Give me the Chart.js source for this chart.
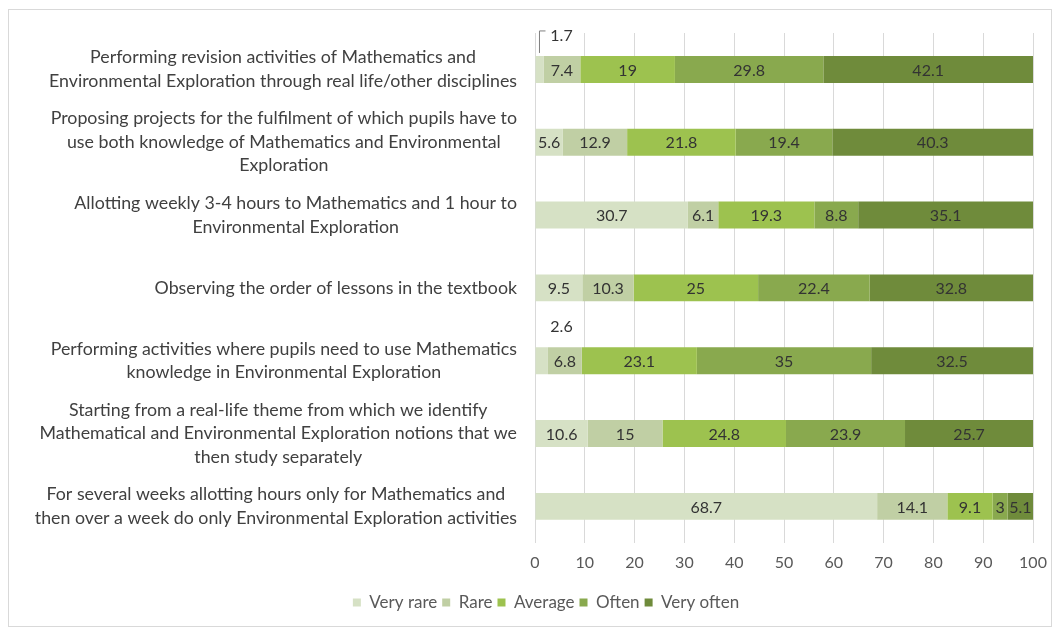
<!DOCTYPE html>
<html lang="en">
<head>
    <meta charset="UTF-8" />
    <title>Integration practices</title>
    <style>
        body {
            margin: 0;
            background: #ffffff;
        }

        .wrap {
            position: relative;
            width: 1060px;
            height: 635px;
        }
    </style>
</head>
<body>
    <div class="wrap">
        <canvas id="chart" width="1060" height="635"></canvas>
    </div>

    <script src="https://cdn.jsdelivr.net/npm/chart.js"></script>
    <script>
        // Data
        const categories = [
            ["Performing revision activities of Mathematics and",
             "Environmental Exploration through real life/other disciplines"],
            ["Proposing projects for the fulfilment of which pupils have to",
             "use both knowledge of Mathematics and Environmental",
             "Exploration"],
            ["Allotting weekly 3-4 hours to Mathematics and 1 hour to",
             "Environmental Exploration"],
            ["Observing the order of lessons in the textbook"],
            ["Performing activities where pupils need to use Mathematics",
             "knowledge in Environmental Exploration"],
            ["Starting from a real-life theme from which we identify",
             "Mathematical and Environmental Exploration notions that we",
             "then study separately"],
            ["For several weeks allotting hours only for Mathematics and",
             "then over a week do only Environmental Exploration activities"]
        ];
        const seriesNames = ["Very rare", "Rare", "Average", "Often", "Very often"];
        const veryRare = [1.7, 5.6, 30.7, 9.5, 2.6, 10.6, 68.7];
        const rare = [7.4, 12.9, 6.1, 10.3, 6.8, 15, 14.1];
        const average = [19, 21.8, 19.3, 25, 23.1, 24.8, 9.1];
        const often = [29.8, 19.4, 8.8, 22.4, 35, 23.9, 3];
        const veryOften = [42.1, 40.3, 35.1, 32.8, 32.5, 25.7, 5.1];
        const xTicks = [0, 10, 20, 30, 40, 50, 60, 70, 80, 90, 100];

        const colors = ['#d6e1c5', '#c0cfa4', '#9dc24f', '#89a94e', '#6f8b3b'];
        const FONT = 'Lato, "Open Sans", sans-serif';

        // Category labels: block right-aligned, lines centred inside the block
        const categoryLabels = {
            id: 'categoryLabels',
            afterDraw(chart) {
                const ctx = chart.ctx;
                const y = chart.scales.y;
                const rightEdge = chart.chartArea.left - 18;
                const lineH = 23.5;
                ctx.save();
                ctx.font = '17.8px ' + FONT;
                ctx.fillStyle = '#404040';
                ctx.textAlign = 'center';
                ctx.textBaseline = 'middle';
                categories.forEach((lines, i) => {
                    const w = Math.max(...lines.map(l => ctx.measureText(l).width));
                    const cx = rightEdge - w / 2;
                    const cy = y.getPixelForValue(i);
                    lines.forEach((l, k) => {
                        ctx.fillText(l, cx, cy + (k - (lines.length - 1) / 2) * lineH);
                    });
                });
                ctx.restore();
            }
        };

        // Value labels inside the segments, small ones placed above
        const valueLabels = {
            id: 'valueLabels',
            afterDatasetsDraw(chart) {
                const ctx = chart.ctx;
                ctx.save();
                ctx.font = '16px ' + FONT;
                ctx.fillStyle = '#333333';
                ctx.textBaseline = 'middle';
                ctx.textAlign = 'center';
                chart.data.datasets.forEach((ds, di) => {
                    chart.getDatasetMeta(di).data.forEach((bar, i) => {
                        const txt = String(ds.data[i]);
                        const segW = Math.abs(bar.x - bar.base);
                        const tw = ctx.measureText(txt).width;
                        if (tw > segW + 4) {
                            const top = bar.y - bar.height / 2;
                            const lx = bar.base + 26;
                            const ly = top - 20;
                            ctx.fillText(txt, lx, ly);
                            if (i === 0) {
                                ctx.strokeStyle = '#7f7f7f';
                                ctx.lineWidth = 1;
                                ctx.beginPath();
                                ctx.moveTo((bar.x + bar.base) / 2, top - 3);
                                ctx.lineTo((bar.x + bar.base) / 2, ly - 5);
                                ctx.lineTo(lx - 16, ly - 5);
                                ctx.stroke();
                            }
                        } else {
                            ctx.fillText(txt, (bar.x + bar.base) / 2, bar.y + 1);
                        }
                    });
                });
                ctx.restore();
            }
        };

        // Light frame round the whole chart
        const frame = {
            id: 'frame',
            beforeDraw(chart) {
                const ctx = chart.ctx;
                ctx.save();
                ctx.fillStyle = '#ffffff';
                ctx.fillRect(0, 0, chart.width, chart.height);
                ctx.strokeStyle = '#d9d9d9';
                ctx.lineWidth = 1;
                ctx.strokeRect(8.5, 9.5, chart.width - 17, chart.height - 18);
                ctx.restore();
            }
        };

        const seriesData = [veryRare, rare, average, often, veryOften];

        new Chart(document.getElementById('chart'), {
            type: 'bar',
            data: {
                labels: categories.map((c, i) => i),
                datasets: seriesNames.map((name, k) => ({
                    label: name,
                    data: seriesData[k],
                    backgroundColor: colors[k],
                    borderWidth: 0,
                    barPercentage: 0.37,
                    categoryPercentage: 1
                }))
            },
            options: {
                indexAxis: 'y',
                responsive: false,
                animation: false,
                layout: {
                    padding: { left: 59, right: 27, top: 33, bottom: 14 }
                },
                scales: {
                    x: {
                        stacked: true,
                        min: 0,
                        max: 100,
                        afterBuildTicks(axis) {
                            axis.ticks = xTicks.map(v => ({ value: v }));
                        },
                        afterFit(axis) {
                            axis.height += 7;
                        },
                        grid: { color: '#d9d9d9', drawTicks: false },
                        border: { display: false },
                        ticks: {
                            color: '#595959',
                            padding: 10,
                            font: { family: FONT, size: 16 }
                        }
                    },
                    y: {
                        stacked: true,
                        afterFit(axis) {
                            axis.width = 476;
                        },
                        grid: { display: false },
                        border: { display: false },
                        ticks: { display: false }
                    }
                },
                plugins: {
                    legend: {
                        position: 'bottom',
                        labels: {
                            boxWidth: 8,
                            boxHeight: 8,
                            padding: 5,
                            color: '#595959',
                            font: { family: FONT, size: 17 }
                        }
                    },
                    tooltip: { enabled: false }
                }
            },
            plugins: [frame, categoryLabels, valueLabels]
        });
    </script>
</body>
</html>
